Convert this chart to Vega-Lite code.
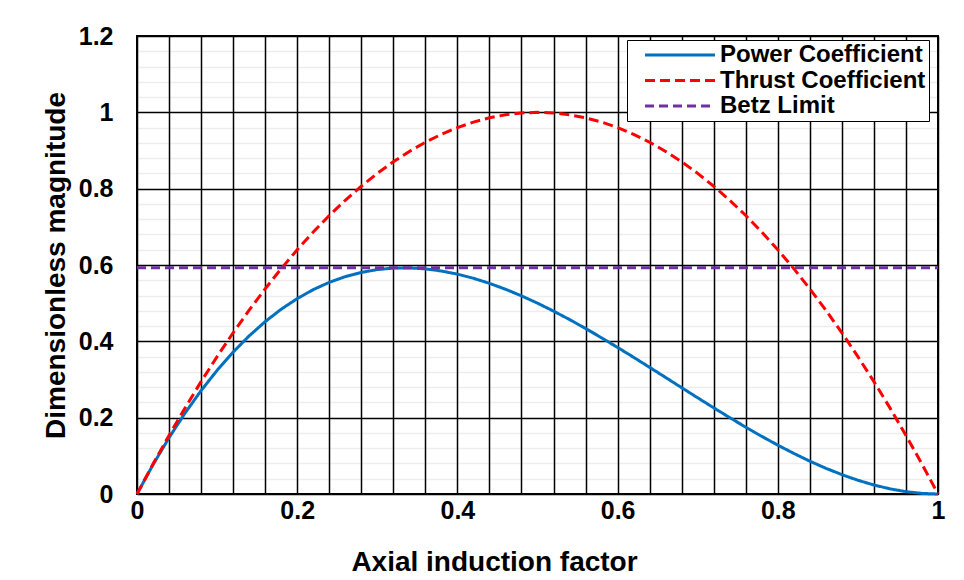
{
  "$schema": "https://vega.github.io/schema/vega-lite/v6.json",
  "width": 801,
  "height": 458,
  "autosize": {"type": "none"},
  "padding": {"left": 137, "top": 36, "right": 26, "bottom": 86},
  "background": "white",
  "config": {
    "font": "Liberation Sans",
    "view": {"stroke": "black", "strokeWidth": 2}
  },
  "data": {
    "values": [
      {"a": 0.00, "Power Coefficient": 0.0, "Thrust Coefficient": 0.0, "Betz Limit": 0.593},
      {"a": 0.02, "Power Coefficient": 0.0768, "Thrust Coefficient": 0.0784, "Betz Limit": 0.593},
      {"a": 0.04, "Power Coefficient": 0.1475, "Thrust Coefficient": 0.1536, "Betz Limit": 0.593},
      {"a": 0.06, "Power Coefficient": 0.2121, "Thrust Coefficient": 0.2256, "Betz Limit": 0.593},
      {"a": 0.08, "Power Coefficient": 0.2708, "Thrust Coefficient": 0.2944, "Betz Limit": 0.593},
      {"a": 0.10, "Power Coefficient": 0.324, "Thrust Coefficient": 0.36, "Betz Limit": 0.593},
      {"a": 0.12, "Power Coefficient": 0.3717, "Thrust Coefficient": 0.4224, "Betz Limit": 0.593},
      {"a": 0.14, "Power Coefficient": 0.4142, "Thrust Coefficient": 0.4816, "Betz Limit": 0.593},
      {"a": 0.16, "Power Coefficient": 0.4516, "Thrust Coefficient": 0.5376, "Betz Limit": 0.593},
      {"a": 0.18, "Power Coefficient": 0.4841, "Thrust Coefficient": 0.5904, "Betz Limit": 0.593},
      {"a": 0.20, "Power Coefficient": 0.512, "Thrust Coefficient": 0.64, "Betz Limit": 0.593},
      {"a": 0.22, "Power Coefficient": 0.5354, "Thrust Coefficient": 0.6864, "Betz Limit": 0.593},
      {"a": 0.24, "Power Coefficient": 0.5545, "Thrust Coefficient": 0.7296, "Betz Limit": 0.593},
      {"a": 0.26, "Power Coefficient": 0.5695, "Thrust Coefficient": 0.7696, "Betz Limit": 0.593},
      {"a": 0.28, "Power Coefficient": 0.5806, "Thrust Coefficient": 0.8064, "Betz Limit": 0.593},
      {"a": 0.30, "Power Coefficient": 0.588, "Thrust Coefficient": 0.84, "Betz Limit": 0.593},
      {"a": 0.32, "Power Coefficient": 0.5919, "Thrust Coefficient": 0.8704, "Betz Limit": 0.593},
      {"a": 0.34, "Power Coefficient": 0.5924, "Thrust Coefficient": 0.8976, "Betz Limit": 0.593},
      {"a": 0.36, "Power Coefficient": 0.5898, "Thrust Coefficient": 0.9216, "Betz Limit": 0.593},
      {"a": 0.38, "Power Coefficient": 0.5843, "Thrust Coefficient": 0.9424, "Betz Limit": 0.593},
      {"a": 0.40, "Power Coefficient": 0.576, "Thrust Coefficient": 0.96, "Betz Limit": 0.593},
      {"a": 0.42, "Power Coefficient": 0.5652, "Thrust Coefficient": 0.9744, "Betz Limit": 0.593},
      {"a": 0.44, "Power Coefficient": 0.5519, "Thrust Coefficient": 0.9856, "Betz Limit": 0.593},
      {"a": 0.46, "Power Coefficient": 0.5365, "Thrust Coefficient": 0.9936, "Betz Limit": 0.593},
      {"a": 0.48, "Power Coefficient": 0.5192, "Thrust Coefficient": 0.9984, "Betz Limit": 0.593},
      {"a": 0.50, "Power Coefficient": 0.5, "Thrust Coefficient": 1.0, "Betz Limit": 0.593},
      {"a": 0.52, "Power Coefficient": 0.4792, "Thrust Coefficient": 0.9984, "Betz Limit": 0.593},
      {"a": 0.54, "Power Coefficient": 0.4571, "Thrust Coefficient": 0.9936, "Betz Limit": 0.593},
      {"a": 0.56, "Power Coefficient": 0.4337, "Thrust Coefficient": 0.9856, "Betz Limit": 0.593},
      {"a": 0.58, "Power Coefficient": 0.4092, "Thrust Coefficient": 0.9744, "Betz Limit": 0.593},
      {"a": 0.60, "Power Coefficient": 0.384, "Thrust Coefficient": 0.96, "Betz Limit": 0.593},
      {"a": 0.62, "Power Coefficient": 0.3581, "Thrust Coefficient": 0.9424, "Betz Limit": 0.593},
      {"a": 0.64, "Power Coefficient": 0.3318, "Thrust Coefficient": 0.9216, "Betz Limit": 0.593},
      {"a": 0.66, "Power Coefficient": 0.3052, "Thrust Coefficient": 0.8976, "Betz Limit": 0.593},
      {"a": 0.68, "Power Coefficient": 0.2785, "Thrust Coefficient": 0.8704, "Betz Limit": 0.593},
      {"a": 0.70, "Power Coefficient": 0.252, "Thrust Coefficient": 0.84, "Betz Limit": 0.593},
      {"a": 0.72, "Power Coefficient": 0.2258, "Thrust Coefficient": 0.8064, "Betz Limit": 0.593},
      {"a": 0.74, "Power Coefficient": 0.2001, "Thrust Coefficient": 0.7696, "Betz Limit": 0.593},
      {"a": 0.76, "Power Coefficient": 0.1751, "Thrust Coefficient": 0.7296, "Betz Limit": 0.593},
      {"a": 0.78, "Power Coefficient": 0.151, "Thrust Coefficient": 0.6864, "Betz Limit": 0.593},
      {"a": 0.80, "Power Coefficient": 0.128, "Thrust Coefficient": 0.64, "Betz Limit": 0.593},
      {"a": 0.82, "Power Coefficient": 0.1063, "Thrust Coefficient": 0.5904, "Betz Limit": 0.593},
      {"a": 0.84, "Power Coefficient": 0.086, "Thrust Coefficient": 0.5376, "Betz Limit": 0.593},
      {"a": 0.86, "Power Coefficient": 0.0674, "Thrust Coefficient": 0.4816, "Betz Limit": 0.593},
      {"a": 0.88, "Power Coefficient": 0.0507, "Thrust Coefficient": 0.4224, "Betz Limit": 0.593},
      {"a": 0.90, "Power Coefficient": 0.036, "Thrust Coefficient": 0.36, "Betz Limit": 0.593},
      {"a": 0.92, "Power Coefficient": 0.0236, "Thrust Coefficient": 0.2944, "Betz Limit": 0.593},
      {"a": 0.94, "Power Coefficient": 0.0135, "Thrust Coefficient": 0.2256, "Betz Limit": 0.593},
      {"a": 0.96, "Power Coefficient": 0.0061, "Thrust Coefficient": 0.1536, "Betz Limit": 0.593},
      {"a": 0.98, "Power Coefficient": 0.0016, "Thrust Coefficient": 0.0784, "Betz Limit": 0.593},
      {"a": 1.00, "Power Coefficient": 0.0, "Thrust Coefficient": 0.0, "Betz Limit": 0.593}
    ]
  },
  "transform": [
    {"fold": ["Power Coefficient", "Thrust Coefficient", "Betz Limit"], "as": ["series", "value"]}
  ],
  "mark": {"type": "line", "strokeWidth": 3, "clip": false},
  "encoding": {
    "x": {
      "field": "a",
      "type": "quantitative",
      "scale": {"domain": [0, 1], "nice": false, "zero": false},
      "axis": {
        "title": "Axial induction factor",
        "values": [0, 0.04, 0.08, 0.12, 0.16, 0.2, 0.24, 0.28, 0.32, 0.36, 0.4, 0.44, 0.48, 0.52, 0.56, 0.6, 0.64, 0.68, 0.72, 0.76, 0.8, 0.84, 0.88, 0.92, 0.96, 1],
        "format": ".1~f",
        "labelExpr": "abs(round(datum.value*5) - datum.value*5) < 0.001 ? datum.label : ''",
        "grid": true,
        "gridColor": "black",
        "gridWidth": 1.5,
        "gridOpacity": 1,
        "ticks": false,
        "domain": false,
        "labelFont": "Liberation Sans",
        "labelFontWeight": "bold",
        "labelFontSize": 25,
        "labelColor": "black",
        "labelPadding": 4,
        "labelFlush": false,
        "labelOverlap": false,
        "titleFont": "Liberation Sans",
        "titleFontWeight": "bold",
        "titleFontSize": 28,
        "titleColor": "black",
        "titlePadding": 25,
        "titleX": 357,
        "titleAlign": "center",
        "titleAnchor": "start"
      }
    },
    "y": {
      "field": "value",
      "type": "quantitative",
      "scale": {"domain": [0, 1.2], "nice": false, "zero": false},
      "axis": {
        "title": "Dimensionless magnitude",
        "values": [0, 0.04, 0.08, 0.12, 0.16, 0.2, 0.24, 0.28, 0.32, 0.36, 0.4, 0.44, 0.48, 0.52, 0.56, 0.6, 0.64, 0.68, 0.72, 0.76, 0.8, 0.84, 0.88, 0.92, 0.96, 1, 1.04, 1.08, 1.12, 1.16, 1.2],
        "format": ".1~f",
        "labelExpr": "abs(round(datum.value*5) - datum.value*5) < 0.001 ? datum.label : ''",
        "grid": true,
        "gridColor": {"condition": {"test": "abs(round(datum.value*5) - datum.value*5) < 0.001", "value": "black"}, "value": "rgba(0,0,0,0.07)"},
        "gridWidth": 1.5,
        "gridOpacity": 1,
        "ticks": false,
        "domain": false,
        "labelFont": "Liberation Sans",
        "labelFontWeight": "bold",
        "labelFontSize": 25,
        "labelColor": "black",
        "labelPadding": 24,
        "labelOverlap": false,
        "labelFlush": false,
        "titleFont": "Liberation Sans",
        "titleFontWeight": "bold",
        "titleFontSize": 28,
        "titleColor": "black",
        "titlePadding": 8
      }
    },
    "color": {
      "field": "series",
      "type": "nominal",
      "scale": {"domain": ["Power Coefficient", "Thrust Coefficient", "Betz Limit"], "range": ["#0070C0", "#FF0000", "#7030A0"]},
      "legend": {
        "title": null,
        "orient": "none",
        "legendX": 490,
        "legendY": 4,
        "direction": "vertical",
        "strokeColor": "black",
        "fillColor": "white",
        "padding": 3,
        "labelFont": "Liberation Sans",
        "labelFontWeight": "bold",
        "labelFontSize": 24,
        "labelColor": "black",
        "labelLimit": 0,
        "labelOffset": 66,
        "symbolType": "M0.3,0H7.3",
        "symbolSize": 400,
        "symbolStrokeWidth": 3,
        "rowPadding": 1.5
      }
    },
    "strokeDash": {
      "field": "series",
      "type": "nominal",
      "scale": {"domain": ["Power Coefficient", "Thrust Coefficient", "Betz Limit"], "range": [[1, 0], [10, 5], [9, 5]]},
      "legend": {
        "title": null,
        "orient": "none",
        "legendX": 490,
        "legendY": 4,
        "direction": "vertical",
        "strokeColor": "black",
        "fillColor": "white",
        "padding": 3,
        "labelFont": "Liberation Sans",
        "labelFontWeight": "bold",
        "labelFontSize": 24,
        "labelColor": "black",
        "labelLimit": 0,
        "labelOffset": 66,
        "symbolType": "M0.3,0H7.3",
        "symbolSize": 400,
        "symbolStrokeWidth": 3,
        "rowPadding": 1.5
      }
    }
  }
}
